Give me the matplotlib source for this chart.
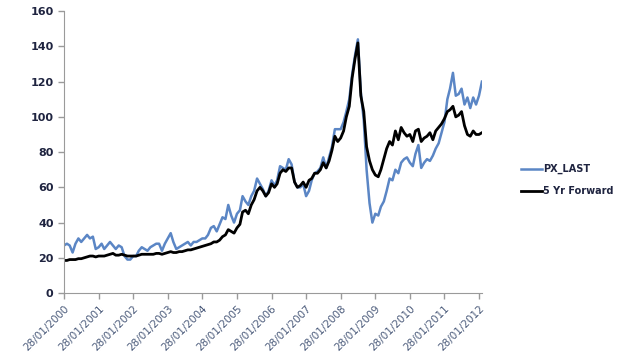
import pandas as pd
import matplotlib
matplotlib.use('Agg')
import matplotlib.pyplot as plt

# monthly readings (28th of each month), Jan 2000 - Feb 2012
px_last = [
    27, 28, 27, 23, 28, 31, 29, 31, 33, 31, 32, 25,   # 2000
    26, 28, 25, 27, 29, 27, 25, 27, 26, 21, 19, 19,   # 2001
    21, 21, 24, 26, 25, 24, 26, 27, 28, 28, 24, 28,   # 2002
    31, 34, 29, 25, 26, 27, 28, 29, 27, 29, 29, 30,   # 2003
    31, 31, 33, 37, 38, 35, 39, 43, 42, 50, 44, 40,   # 2004
    45, 47, 55, 52, 50, 55, 58, 65, 62, 59, 55, 58,   # 2005
    64, 61, 64, 72, 71, 70, 76, 73, 63, 60, 60, 62,   # 2006
    55, 58, 64, 68, 69, 71, 77, 71, 77, 83, 93, 93,   # 2007
    93, 97, 103, 110, 124, 135, 144, 114, 98, 70, 51, 40,  # 2008
    45, 44, 49, 52, 58, 65, 64, 70, 68, 74, 76, 77,   # 2009
    74, 72, 79, 84, 71, 74, 76, 75, 78, 82, 85, 91,   # 2010
    97, 110, 116, 125, 112, 113, 116, 107, 111, 105, 111, 107,  # 2011
    112, 120,                                          # 2012
]
fwd_5yr = [
    18.5, 18.5, 19, 19, 19, 19.5, 19.5, 20, 20.5, 21, 21, 20.5,
    21, 21, 21, 21.5, 22, 22.5, 21.5, 21.5, 22, 21.5, 21, 21,
    21, 21, 21.5, 22, 22, 22, 22, 22, 22.5, 22.5, 22, 22.5,
    23, 23.5, 23, 23, 23.5, 23.5, 24, 24.5, 24.5, 25, 25.5, 26,
    26.5, 27, 27.5, 28, 29, 29, 30, 32, 33, 36, 35, 34,
    37, 39, 46, 47, 45, 50, 53, 58, 60, 58, 55, 57,
    62, 60, 62, 68, 70, 69, 71, 71, 63, 60, 61, 63,
    60, 64, 65, 68, 68, 70, 74, 71, 75, 81, 89, 86,
    88, 92, 100, 106, 122, 133, 142, 112, 103, 83, 75, 70,
    67, 66, 70, 76, 82, 86, 84, 92, 87, 94, 91, 89,
    90, 86, 92, 93, 86, 88, 89, 91, 87, 92, 94, 96,
    99, 103, 104, 106, 100, 101, 103, 95, 90, 89, 92, 90,
    90, 91,
]
dates = pd.date_range('2000-01-01', periods=len(px_last), freq='MS') + pd.Timedelta(days=27)
tick_dates = pd.date_range('2000-01-01', periods=13, freq='12MS') + pd.Timedelta(days=27)

fig = plt.figure(figsize=(6.4, 3.6), dpi=100)
ax = fig.add_axes([0.1, 0.186, 0.653, 0.783])

ax.plot(dates, px_last, color='#5b86c5', linewidth=1.8, label='PX_LAST')
ax.plot(dates, fwd_5yr, color='black', linewidth=2, label='5 Yr Forward')

ax.set_ylim(0, 160)
ax.set_yticks(range(0, 161, 20))
ax.set_xlim(dates[0], dates[-1])
ax.set_xticks(tick_dates)
ax.set_xticklabels([d.strftime('%d/%m/%Y') for d in tick_dates],
                   rotation=45, ha='right', rotation_mode='anchor',
                   fontsize=7.5, color='#4a5a7a')
for lab in ax.get_yticklabels():
    lab.set_fontsize(8)
    lab.set_fontweight('bold')
    lab.set_color('#1f2440')

for s in ['top', 'right']:
    ax.spines[s].set_visible(False)
for s in ['left', 'bottom']:
    ax.spines[s].set_color('#9a9a9a')
ax.tick_params(axis='both', colors='#9a9a9a', length=4, width=1)
ax.tick_params(axis='x', labelcolor='#4a5a7a')
ax.tick_params(axis='y', labelcolor='#1f2440')

leg = fig.legend(loc='center left', bbox_to_anchor=(0.8, 0.5), frameon=False,
                 handlelength=2.2, handletextpad=0.1, labelspacing=1.2,
                 prop={'size': 7, 'weight': 'bold'})
for t in leg.get_texts():
    t.set_color('#1f2440')

fig.savefig('out.png', dpi=100)
